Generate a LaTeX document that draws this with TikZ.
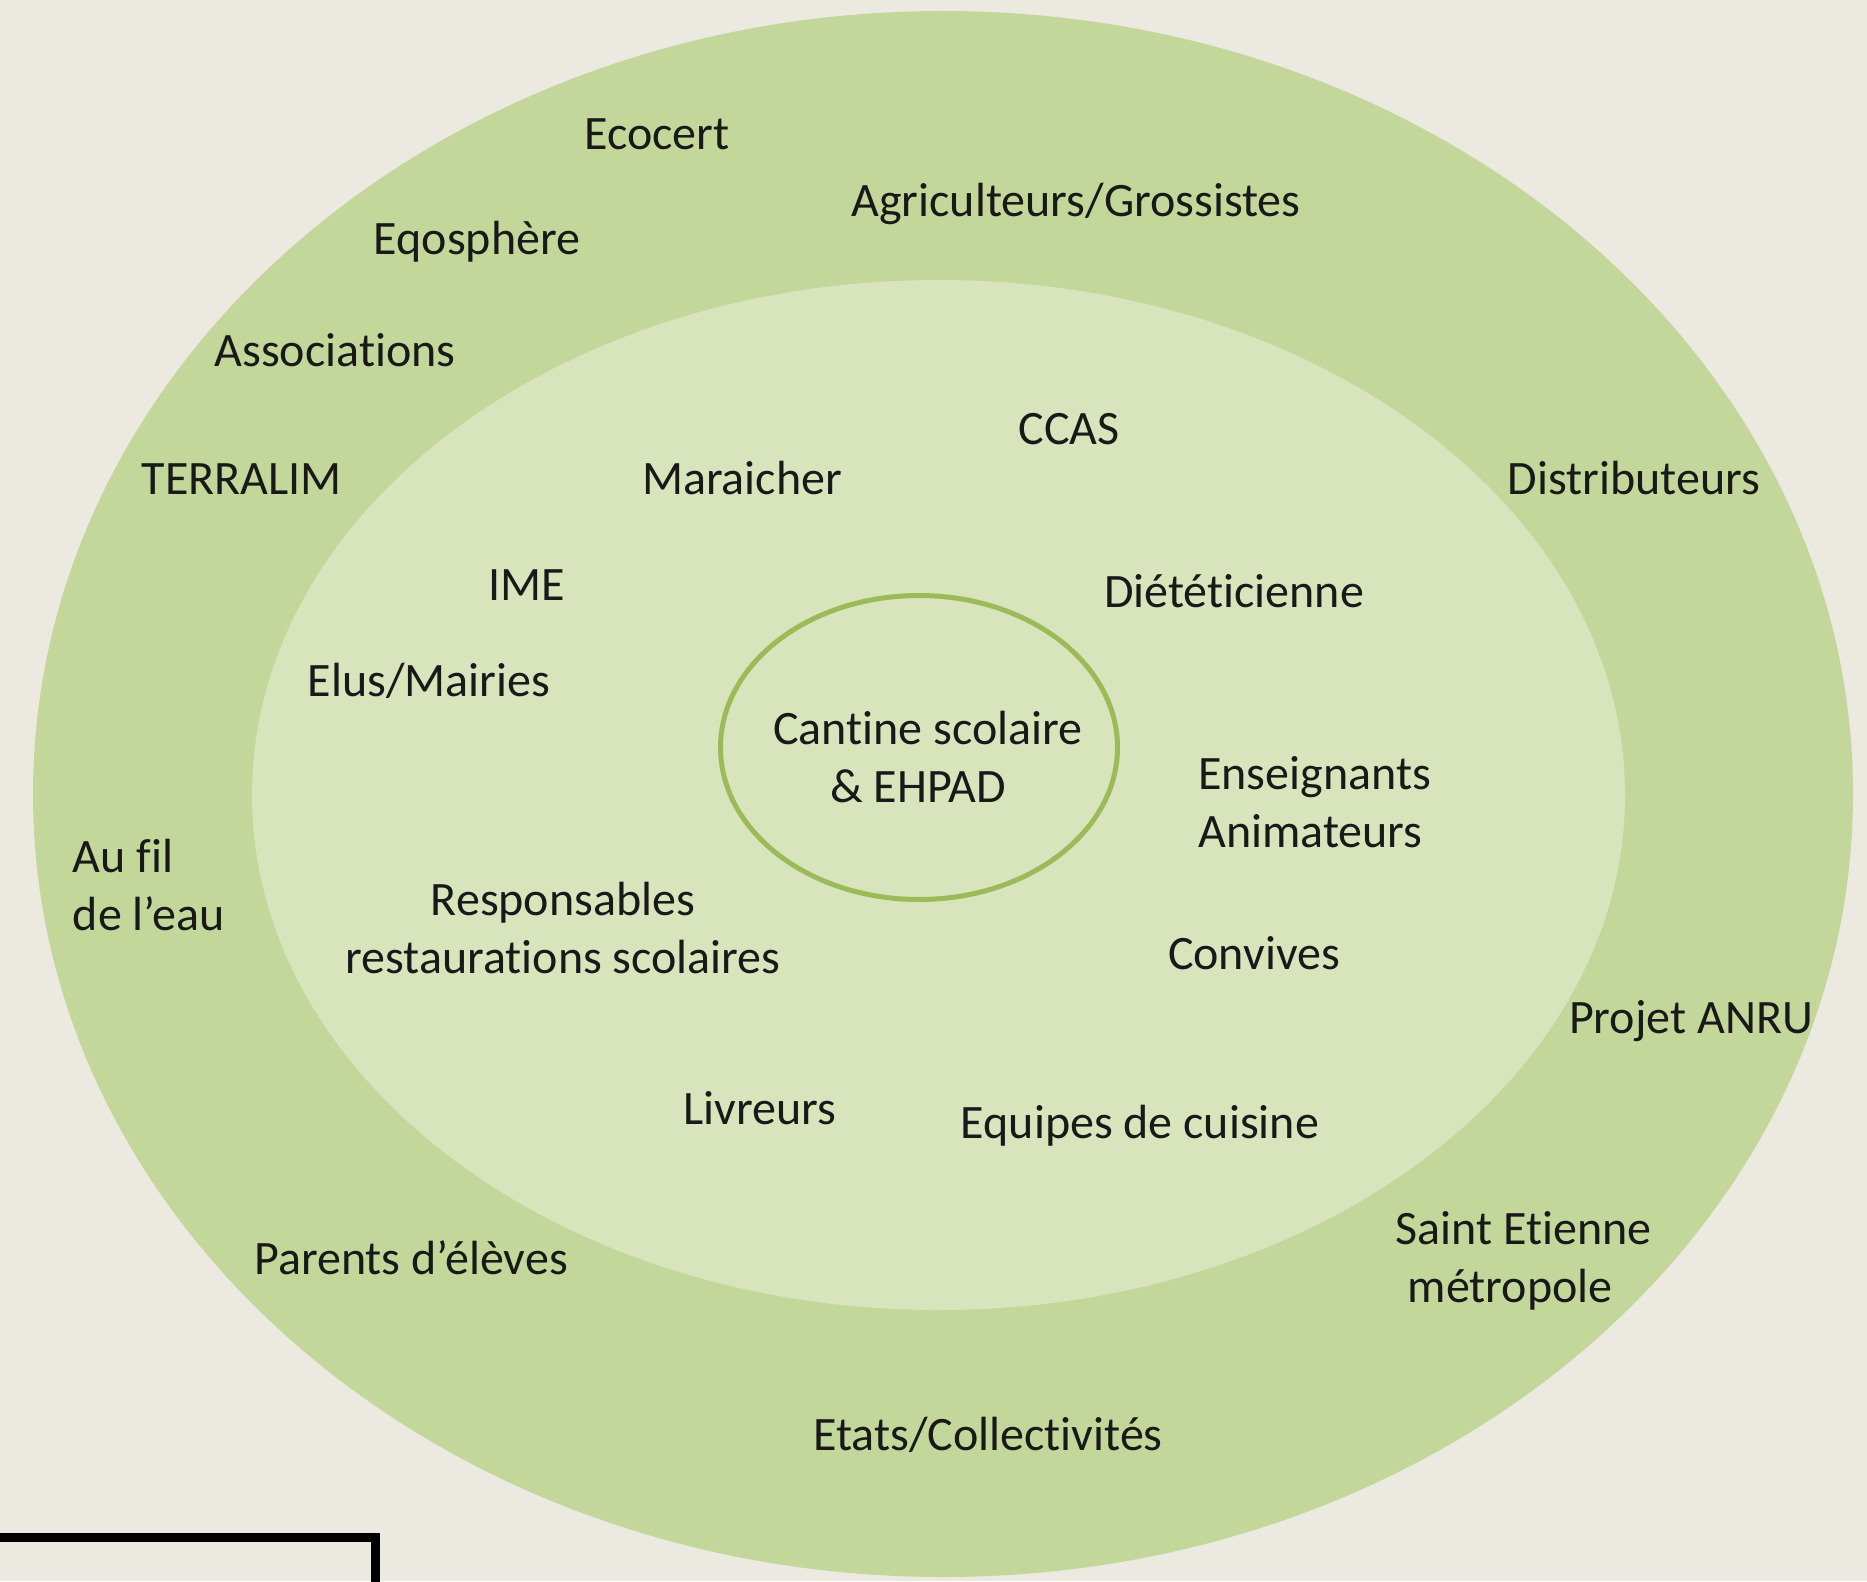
\documentclass[tikz,border=0pt]{standalone}
\usepackage{fontspec}
\setmainfont{Carlito}[Ligatures={NoCommon}]
\usetikzlibrary{shapes.geometric}
\definecolor{bgc}{RGB}{236,234,224}
\definecolor{outerg}{RGB}{196,215,155}
\definecolor{innerg}{RGB}{216,228,188}
\definecolor{ringg}{RGB}{155,187,89}
\tikzset{
  lbl/.style={font=\fontsize{48}{58}\selectfont, inner sep=0pt, text=black!90, anchor=base},
  mlbl/.style={font=\fontsize{48}{58}\selectfont, inner sep=0pt, text=black!90, align=center, anchor=center},
  llbl/.style={font=\fontsize{48}{58}\selectfont, inner sep=0pt, text=black!90, align=left, anchor=west},
}
\begin{document}
\begin{tikzpicture}[x=1pt,y=-1pt]
\fill[bgc] (0,0) rectangle (1867,1581);
\useasboundingbox (0,0) rectangle (1867,1581);
\fill[outerg] (943,794) ellipse [x radius=910pt, y radius=783pt];
\fill[innerg] (938.5,795) ellipse [x radius=686.5pt, y radius=515pt];
\node[ellipse, draw=ringg, line width=5pt, minimum width=397pt, minimum height=304pt, inner sep=0pt] (core) at (919,747.5) {};
\node[llbl] (cantine) at (773,757) {Cantine scolaire\\\hspace*{57pt}\& EHPAD};
% outer ring
\node[lbl] (ecocert) at (657,150) {Ecocert};
\node[lbl] (agri) at (1076,216.7) {Agriculteurs/Grossistes};
\node[lbl] (eqos) at (477,254.8) {Eqosphère};
\node[lbl] (assoc) at (335,366.7) {Associations};
\node[lbl] (terralim) at (242,494) {TERRALIM};
\node[lbl] (distrib) at (1634,494) {Distributeurs};
\node[llbl] (aufil) at (72.6,885) {Au fil\\de l’eau};
\node[lbl] (anru) at (1691,1033.5) {Projet ANRU};
\node[llbl] (stetienne) at (1395.5,1261) {Saint Etienne\\\hspace*{12pt}métropole};
\node[lbl] (parents) at (411,1274) {Parents d’élèves};
\node[lbl] (etats) at (988,1450) {Etats/Collectivités};
% inner ring
\node[lbl] (maraicher) at (742,494) {Maraicher};
\node[lbl] (ccas) at (1069,444) {CCAS};
\node[lbl] (ime) at (527,600) {IME};
\node[lbl] (diet) at (1234,607) {Diététicienne};
\node[lbl] (elus) at (429,696.6) {Elus/Mairies};
\node[llbl] (enseign) at (1198,802.5) {Enseignants\\Animateurs};
\node[mlbl] (resp) at (563,928) {Responsables\\restaurations scolaires};
\node[lbl] (convives) at (1254,969) {Convives};
\node[lbl] (livreurs) at (760,1124) {Livreurs};
\node[lbl] (equipes) at (1140,1138) {Equipes de cuisine};
% partial box
\draw[line width=9pt, line join=miter] (-20,1537.5) -- (375,1537.5) -- (375,1620);
\end{tikzpicture}
\end{document}
